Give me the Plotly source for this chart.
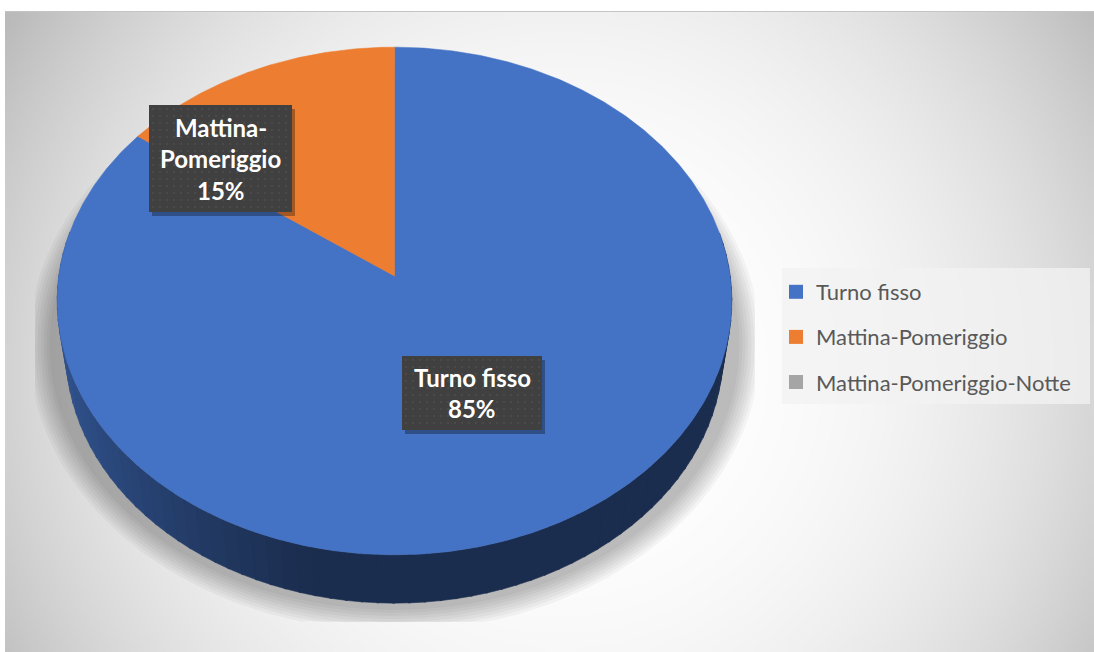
import numpy as np
import plotly.graph_objects as go

# ---- data -------------------------------------------------------------
categories = ["Turno fisso", "Mattina-Pomeriggio", "Mattina-Pomeriggio-Notte"]
values = [85, 15, 0]
colors = ["#4472C4", "#ED7D31", "#A5A5A5"]

# ---- canvas / projection settings --------------------------------------
W, H = 1094, 652
CX, CY = 394.5, 276.0          # screen position of the disc centre
FOCAL, DIST = 2259.0, 6.73     # simple perspective camera
ELEV = np.radians(48.5)        # viewing elevation
DEPTH = 0.234                  # thickness of the pie (disc radius = 1)
FONT = "Lato"


def project(theta_deg, r=1.0, z=0.0):
    """Project a point on the tilted disc (angle clockwise from 12 o'clock)."""
    t = np.radians(theta_deg)
    X = r * np.sin(t)
    Y = r * np.cos(t)
    up = Y * np.sin(ELEV) + z * np.cos(ELEV)
    w = DIST + Y * np.cos(ELEV) - z * np.sin(ELEV)
    return CX + FOCAL * X / w, CY - FOCAL * up / w


def hex_rgb(h):
    h = h.lstrip("#")
    return [int(h[i:i + 2], 16) for i in (0, 2, 4)]


fig = go.Figure()

# ---- radial gradient background ---------------------------------------
nx, ny = 120, 70
x0b, y0b = 5, 11
bx = x0b + (np.arange(nx) + 0.5) * (W - x0b) / nx
by = y0b + (np.arange(ny) + 0.5) * (H - y0b) / ny
BX, BY = np.meshgrid(bx, by)
dist = np.hypot(BX - 560, BY - 370)
gray = np.clip(255 - 63 * (dist / 630) ** 2.6, 186, 255)
fig.add_trace(go.Heatmap(
    x=bx, y=by, z=gray, zmin=0, zmax=255, zsmooth="best",
    colorscale=[[0, "rgb(0,0,0)"], [1, "rgb(255,255,255)"]],
    showscale=False, hoverinfo="skip"))

# ---- soft shadow under the pie ----------------------------------------
tt = np.linspace(0, 2 * np.pi, 200)
for k in range(8):
    a = 345 + 3 * k
    b = 265 + 3 * k
    sx = np.clip(CX + a * np.cos(tt), 35, 755)
    sy = np.clip(345 + b * np.sin(tt), 0, 622)
    fig.add_trace(go.Scatter(
        x=sx, y=sy, mode="lines", fill="toself",
        fillcolor="rgba(0,0,0,0.036)", line=dict(width=0),
        hoverinfo="skip", showlegend=False))

# ---- slice angles ------------------------------------------------------
total = float(sum(values))
bounds = []
acc = 0.0
for v in values:
    start = 360.0 * acc / total
    acc += v
    bounds.append((start, 360.0 * acc / total))


def slice_at(theta):
    th = theta % 360
    for i, (s, e) in enumerate(bounds):
        if s <= th < e:
            return i
    return 0


# ---- pie side wall (front half), shaded by horizontal position ---------
step = 2.5
strips = []
for th in np.arange(80, 280, step):
    mid = th + step / 2
    strips.append((np.cos(np.radians(mid)), th, mid))
strips.sort(key=lambda s: -s[0])            # far strips first
for _, th, mid in strips:
    base = hex_rgb(colors[slice_at(mid)])
    X = np.sin(np.radians(mid))
    f = 0.40
    if X < -0.2:
        f = 0.40 + 0.33 * ((-X - 0.2) / 0.8) ** 1.2
    col = "rgb({},{},{})".format(*[int(c * f) for c in base])
    t1, t2 = th, th + step + 0.3
    xa, ya = project(np.array([t1, t2]))
    xb, yb = project(np.array([t2, t1]), z=-DEPTH)
    fig.add_trace(go.Scatter(
        x=list(xa) + list(xb) + [xa[0]], y=list(ya) + list(yb) + [ya[0]],
        mode="lines", fill="toself", fillcolor=col,
        line=dict(width=0.6, color=col), hoverinfo="skip", showlegend=False))

# ---- pie top face ------------------------------------------------------
for name, v, c, (s, e) in zip(categories, values, colors, bounds):
    if v <= 0:
        continue
    th = np.linspace(s, e, max(int((e - s) * 2), 8))
    px, py = project(th)
    fig.add_trace(go.Scatter(
        x=[CX] + list(px) + [CX], y=[CY] + list(py) + [CY],
        mode="lines", fill="toself", fillcolor=c,
        line=dict(width=0.5, color=c), name=name,
        hoveron="fills", hoverinfo="name", showlegend=False))

# ---- data labels (dark boxes) ------------------------------------------
label_boxes = {0: (402, 542, 356, 430), 1: (149, 292, 105, 212)}
annotations = []
for i, (x0, x1, y0, y1) in label_boxes.items():
    v = values[i]
    name = categories[i]
    lines = name.replace("-", "-\n").split("\n") + ["{:.0f}%".format(100 * v / total)]
    # shadow
    fig.add_trace(go.Scatter(
        x=[x0 + 3, x1 + 3, x1 + 3, x0 + 3, x0 + 3],
        y=[y0 + 4, y0 + 4, y1 + 4, y1 + 4, y0 + 4],
        mode="lines", fill="toself", fillcolor="rgba(0,0,0,0.30)",
        line=dict(width=0), hoverinfo="skip", showlegend=False))
    fig.add_trace(go.Scatter(
        x=[x0, x1, x1, x0, x0], y=[y0, y0, y1, y1, y0],
        mode="lines", fill="toself", fillcolor="#404040",
        line=dict(width=0), hoverinfo="skip", showlegend=False))
    # dotted texture
    gx = np.arange(x0 + 4, x1 - 2, 7.0)
    gy = np.arange(y0 + 4, y1 - 2, 7.0)
    GX, GY = np.meshgrid(gx, gy)
    fig.add_trace(go.Scatter(
        x=GX.ravel(), y=GY.ravel(), mode="markers",
        marker=dict(size=2.2, color="rgba(255,255,255,0.07)", line=dict(width=0)),
        hoverinfo="skip", showlegend=False))
    n = len(lines)
    gap = 31.5
    cy = (y0 + y1) / 2
    for j, txt in enumerate(lines):
        annotations.append(dict(
            x=(x0 + x1) / 2, y=cy + (j - (n - 1) / 2) * gap,
            xref="x", yref="y", text="<b>" + txt + "</b>", showarrow=False,
            xanchor="center", yanchor="middle",
            font=dict(family=FONT, size=24, color="white")))

# ---- legend entries ----------------------------------------------------
for name, c in zip(categories, colors):
    fig.add_trace(go.Scatter(
        x=[None], y=[None], mode="markers", name=name, legendgroup=name,
        marker=dict(symbol="square", size=14, color=c)))

fig.update_layout(
    width=W, height=H,
    margin=dict(l=0, r=0, t=0, b=0),
    paper_bgcolor="white", plot_bgcolor="white",
    xaxis=dict(range=[0, W], visible=False, fixedrange=True),
    yaxis=dict(range=[H, 0], visible=False, fixedrange=True),
    showlegend=True,
    legend=dict(
        x=776 / W, y=1 - 271 / H, xanchor="left", yanchor="top",
        bgcolor="rgba(0,0,0,0)", traceorder="grouped", tracegroupgap=13.5,
        font=dict(family=FONT, size=22, color="#595959")),
    shapes=[
        dict(type="rect", xref="x", yref="y", x0=782, x1=1090, y0=268, y1=404,
             fillcolor="rgba(242,242,242,0.77)", line=dict(width=0), layer="above"),
        dict(type="line", xref="x", yref="y", x0=5, x1=W, y0=11.5, y1=11.5,
             line=dict(color="#c4c4c4", width=1), layer="above"),
    ],
    annotations=annotations,
    hovermode="closest",
)

fig.write_html("out.html")
